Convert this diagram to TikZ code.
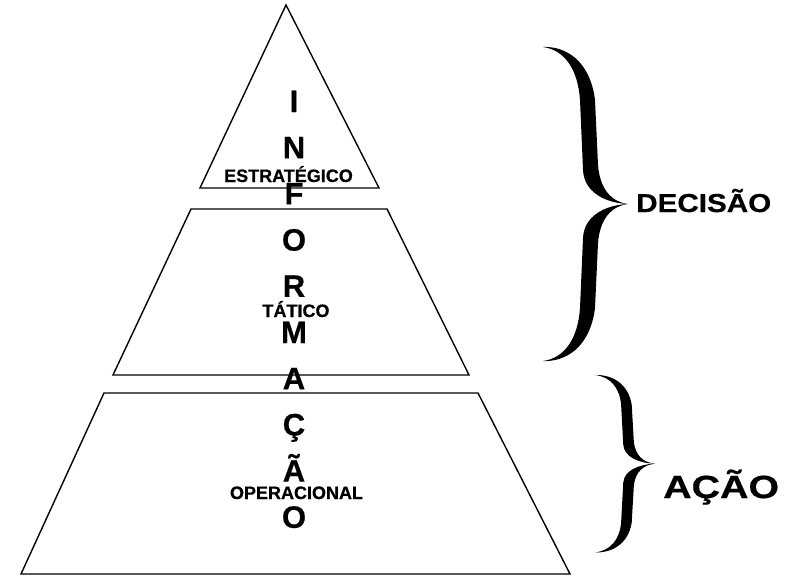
\documentclass[tikz,border=0pt]{standalone}
\usepackage{fontspec}
\setmainfont{Liberation Sans}[BoldFont={Liberation Sans Bold}]
\newfontfamily\heavysans{Liberation Sans Bold}[FakeBold=0.6]
\newfontfamily\wideheavy{Liberation Sans Bold}[FakeStretch=1.14,FakeBold=0.6]
\newfontfamily\widerheavy{Liberation Sans Bold}[FakeStretch=1.23,FakeBold=0.6]
\begin{document}
\begin{tikzpicture}[x=1pt,y=-1pt,
  level/.style={draw=black,line width=1.4pt,line join=miter},
  letter/.style={inner sep=0pt,anchor=base,font=\heavysans\fontsize{31}{31}\selectfont},
  tier/.style={inner sep=0pt,anchor=base,font=\heavysans\fontsize{18}{18}\selectfont},
  side/.style={inner sep=0pt,anchor=base west},
  bracefill/.style={fill=black,draw=none}]
\useasboundingbox (0,0) rectangle (799,578);

% the three levels of the pyramid
\draw[level] (286,5) -- (379,188) -- (200,188) -- cycle;
\draw[level] (191,209) -- (387,209) -- (469,375) -- (113,375) -- cycle;
\draw[level] (104,393) -- (478,393) -- (570,574) -- (21,574) -- cycle;

% vertical word down the middle
\foreach \ch [count=\i] in {I,N,F,O,R,M,A,Ç,Ã,O}
  \node[letter] (L\i) at (294,{112+46.2*(\i-1)}) {\ch};

% level names
\node[tier] (estr) at (288.5,182) {ESTRATÉGICO};
\node[tier] (tat)  at (296,317) {TÁTICO};
\node[tier] (oper) at (296.5,499) {OPERACIONAL};

% curly braces, built from two tapered arms
\newcommand{\bracearms}{%
  \fill[bracefill] (0,0) .. controls (22,-1) and (47,13) .. (52,53) -- (55,118)
    .. controls (57,143) and (69,155) .. (85,157)
    .. controls (62,156) and (41,145) .. (40,123) -- (37,53)
    .. controls (35,23) and (22,3) .. (0,0) -- cycle;
  \fill[bracefill] (0,314) .. controls (22,315) and (47,301) .. (52,261) -- (55,196)
    .. controls (57,171) and (69,159) .. (85,157)
    .. controls (62,158) and (41,169) .. (40,191) -- (37,261)
    .. controls (35,291) and (22,311) .. (0,314) -- cycle;}
\begin{scope}[shift={(543,47)}]
  \bracearms
\end{scope}
\begin{scope}[shift={(595,375)},xscale=0.706,yscale=0.565]
  \bracearms
\end{scope}

\node[side,font=\wideheavy\fontsize{26}{26}\selectfont] (dec) at (636,212) {DECISÃO};
\node[side,font=\widerheavy\fontsize{32}{32}\selectfont] (acao) at (663,498) {AÇÃO};
\end{tikzpicture}
\end{document}
